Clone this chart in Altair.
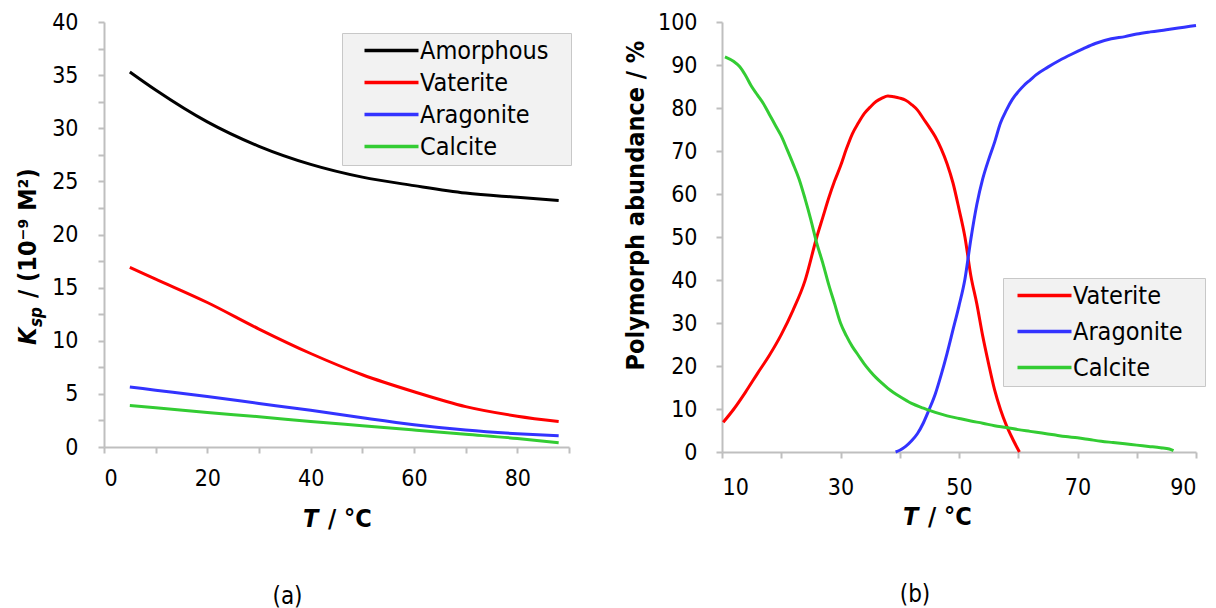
import altair as alt
import pandas as pd

FONT = "DejaVu Sans Condensed, DejaVu Sans, sans-serif"
FS_TICK = 23
FS_TEXT = 25
AXIS_GRAY = "#bfbfbf"

# ---------------- Panel (a): Ksp vs T ----------------
series_a = ["Amorphous", "Vaterite", "Aragonite", "Calcite"]
colors_a = ["#000000", "#ff0000", "#3333ff", "#33cc33"]
t_a = [5, 10, 20, 30, 40, 50, 60, 70, 80, 88]
amorphous = [35.3, 33.6, 30.6, 28.3, 26.6, 25.4, 24.6, 23.9, 23.5, 23.2]
vaterite_a = [16.9, 15.8, 13.6, 11.1, 8.8, 6.8, 5.2, 3.8, 2.9, 2.4]
aragonite_a = [5.65, 5.35, 4.75, 4.1, 3.45, 2.75, 2.1, 1.6, 1.25, 1.05]
calcite_a = [3.9, 3.7, 3.25, 2.85, 2.4, 2.0, 1.6, 1.2, 0.8, 0.4]

# ---------------- Panel (b): abundance vs T ----------------
series_b = ["Vaterite", "Aragonite", "Calcite"]
colors_b = ["#ff0000", "#3333ff", "#33cc33"]
t_vat = [10.2, 12, 14, 16, 18, 20, 22, 24, 26, 27, 28, 29, 30, 31, 32, 33, 34, 35, 36, 37, 38, 39,
         40, 41, 42, 43, 44, 45, 46, 47, 48, 49, 50, 51, 52, 53, 54, 55, 56, 57, 58, 59, 60.2]
vat_b = [6.9, 10, 14, 18.3, 22.5, 27.3, 33, 39.8, 50, 54.5, 59, 63, 66.5, 70.5, 74, 76.5, 78.7, 80.2, 81.5, 82.3, 82.8, 82.6,
         82.3, 81.8, 80.8, 79.5, 77.5, 75.5, 73.3, 70.5, 67, 62.5, 56.5, 50, 41, 34.5, 27, 20.5, 14.5, 9.9, 6.2, 3.2, 0]
t_ara = [39.3, 40, 41, 42, 43, 44, 45, 46, 47, 48, 49, 50, 51, 52, 53, 54, 55, 56, 57, 58, 59, 60, 61, 62, 63,
         65, 67, 69, 71, 73, 75.7, 78, 80, 82.3, 85, 88, 90]
ara_b = [0, 0.4, 1.3, 2.6, 4.3, 6.8, 10, 13.5, 18, 23, 28.5, 34, 40.2, 49.5, 57.5, 63.5, 68, 72, 76.5, 79.5, 82, 83.8, 85.3, 86.5, 87.7,
         89.5, 91.1, 92.5, 93.8, 95, 96.1, 96.6, 97.2, 97.7, 98.2, 98.8, 99.2]
t_cal = [10.5, 12, 13, 14, 15, 16, 17, 18, 19, 20, 21, 22, 23, 24, 25, 26, 27, 28, 29, 30, 31, 32, 33, 34, 35, 36, 37, 38, 39,
         40, 42, 44, 46, 48, 50, 52, 54, 56, 58, 60, 62, 64, 66, 68, 70, 72, 74, 76, 78, 80, 82, 84, 85.5, 86.2]
cal_b = [91.9, 90.8, 89.6, 87.5, 85, 83, 81, 78.5, 76, 73.5, 70.3, 67, 63.5, 59, 54, 48.5, 44, 39, 34.5, 30, 27, 24.5, 22.5, 20.5,
         18.8, 17.3, 16, 14.8, 13.8, 12.9, 11.3, 10.2, 9.2, 8.4, 7.8, 7.2, 6.7, 6.1, 5.7, 5.2, 4.8, 4.4, 4.0, 3.6, 3.3, 2.9, 2.5,
         2.2, 1.9, 1.6, 1.3, 1.0, 0.7, 0.3]

# axis-title fragments (italic symbol + rest)
title_sym_T = "T"
title_rest_T = "/ °C"
title_sym_K = "K"
title_sub_K = "sp"
title_rest_K = "/ (10⁻⁹ M²)"

rows_a = []
for name, vals in zip(series_a, [amorphous, vaterite_a, aragonite_a, calcite_a]):
    for t, v in zip(t_a, vals):
        rows_a.append({"T": t, "K": v, "series": name})
df_a = pd.DataFrame(rows_a)

rows_b = []
for name, ts, vals in zip(series_b, [t_vat, t_ara, t_cal], [vat_b, ara_b, cal_b]):
    for t, v in zip(ts, vals):
        rows_b.append({"T": t, "P": v, "series": name})
df_b = pd.DataFrame(rows_b)

x_ticks_a = list(range(0, 91, 10))
y_ticks_a = [i * 2.5 for i in range(17)]
x_ticks_b = list(range(10, 91, 10))
y_ticks_b = list(range(0, 101, 10))

axis_common = dict(
    domainColor=AXIS_GRAY, domainWidth=2, tickColor=AXIS_GRAY, tickWidth=2, tickSize=6,
    grid=False, labelFont=FONT, labelFontSize=FS_TICK, labelColor="#000000",
    titleFont=FONT, titleFontSize=FS_TEXT, titleFontWeight="bold", titleColor="#000000",
)

legend_common = dict(
    orient="none", title=None, symbolType="M-1,0H5", symbolSize=324, symbolStrokeWidth=3.5,
    labelFont=FONT, labelFontSize=FS_TEXT, labelColor="#000000", labelLimit=400,
    fillColor="#f2f2f2", strokeColor="#c8c8c8", padding=5,
    labelExpr="datum.label + '\u2800'",
)

one = pd.DataFrame({"k": [0]})


def frag(text, x, y, size=FS_TEXT, italic=False, angle=0):
    return alt.Chart(one).mark_text(
        text=text, font=FONT, fontSize=size, fontWeight="bold",
        fontStyle="italic" if italic else "normal", align="left", baseline="alphabetic",
        angle=angle, color="#000000",
    ).encode(x=alt.value(x), y=alt.value(y))


lines_a = alt.Chart(df_a).mark_line(strokeWidth=3, interpolate="monotone").encode(
    x=alt.X("T:Q", scale=alt.Scale(domain=[0, 90], nice=False),
            axis=alt.Axis(values=x_ticks_a, labelExpr="datum.value % 20 == 0 ? datum.label : ''",
                          labelPadding=14, title=None, **axis_common)),
    y=alt.Y("K:Q", scale=alt.Scale(domain=[0, 40], nice=False),
            axis=alt.Axis(values=y_ticks_a, labelExpr="datum.value % 5 == 0 ? datum.label : ''",
                          labelPadding=20, title=None, **axis_common)),
    color=alt.Color("series:N", sort=series_a,
                    scale=alt.Scale(domain=series_a, range=colors_a),
                    legend=alt.Legend(legendX=238, legendY=11, rowPadding=6, symbolOffset=14, labelOffset=34,
                                      **legend_common)),
)

chart_a = alt.layer(
    lines_a,
    frag(title_sym_T, 199, 505, italic=True),
    frag(title_rest_T, 224, 505),
    frag(title_sym_K, -68, 323, italic=True, angle=270),
    frag(title_sub_K, -62, 305, size=17, italic=True, angle=270),
    frag(title_rest_K, -68, 276, angle=270),
).properties(
    width=465, height=425,
    title=alt.TitleParams("(a)", orient="bottom", anchor="middle", frame="group", dx=-49, offset=53,
                          font=FONT, fontSize=24, fontWeight="normal", color="#000000"),
)

lines_b = alt.Chart(df_b).mark_line(strokeWidth=3, interpolate="monotone").encode(
    x=alt.X("T:Q", scale=alt.Scale(domain=[10, 90], nice=False),
            axis=alt.Axis(values=x_ticks_b, labelExpr="(datum.value - 10) % 20 == 0 ? datum.label : ''",
                          labelPadding=18, title=None, **axis_common)),
    y=alt.Y("P:Q", scale=alt.Scale(domain=[0, 100], nice=False),
            axis=alt.Axis(values=y_ticks_b, labelPadding=19, title="Polymorph abundance / %",
                          titleAngle=270, titleX=-79, titleY=183, titleAlign="center",
                          titleBaseline="alphabetic", **axis_common)),
    color=alt.Color("series:N", sort=series_b,
                    scale=alt.Scale(domain=series_b, range=colors_b),
                    legend=alt.Legend(legendX=281, legendY=256, rowPadding=10, symbolOffset=6, labelOffset=34,
                                      **legend_common)),
)

chart_b = alt.layer(
    lines_b,
    frag(title_sym_T, 181, 503, italic=True),
    frag(title_rest_T, 206, 503),
).properties(
    width=474, height=430,
    title=alt.TitleParams("(b)", orient="bottom", anchor="middle", frame="group", dx=-44, offset=53,
                          font=FONT, fontSize=24, fontWeight="normal", color="#000000"),
)

chart = alt.hconcat(chart_a, chart_b, spacing=50).resolve_scale(color="independent").configure_view(
    stroke=None
).properties(padding={"left": 16, "top": 11, "right": 5, "bottom": 5}, background="#ffffff")

chart.save("out.html", embed_options={"renderer": "svg", "actions": False})
